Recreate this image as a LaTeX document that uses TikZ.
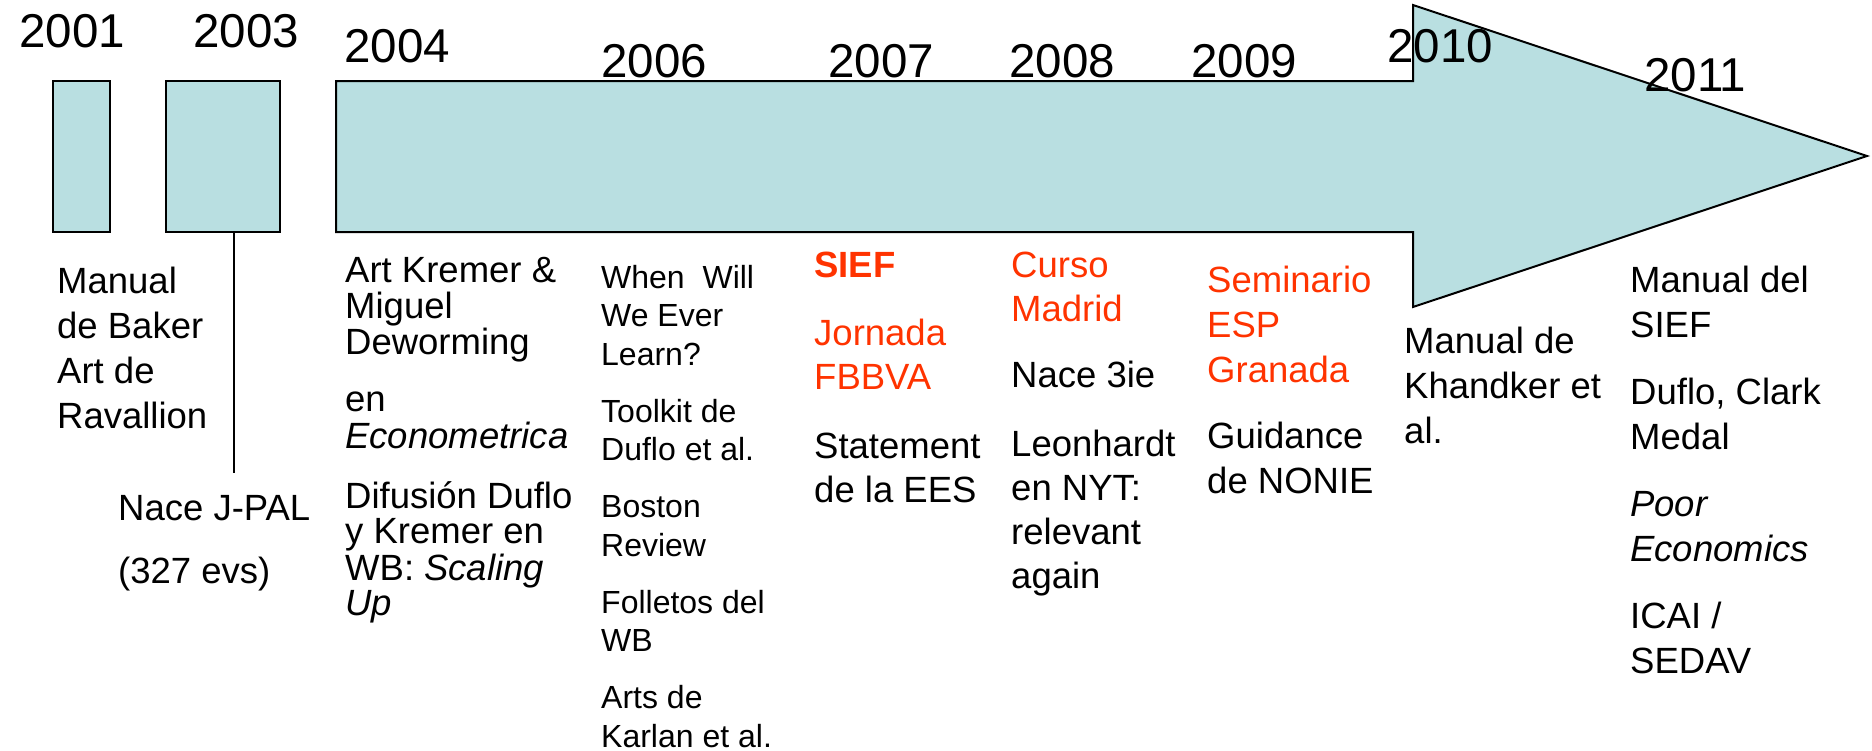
\documentclass[tikz,border=0pt]{standalone}
\usepackage{fontspec}
\setmainfont{Liberation Sans}
\definecolor{boxblue}{HTML}{B9DFE1}
\definecolor{hotred}{HTML}{FF3300}
\newcommand{\colstack}[1]{\begin{tabular}[t]{@{}l@{}}#1\end{tabular}}
\tikzset{
  shapebox/.style={draw=black, line width=2pt, fill=boxblue},
  year/.style={anchor=base west, inner sep=0pt, font=\fontsize{47.5}{47.5}\selectfont},
  txt/.style={anchor=base west, inner sep=0pt, font=\fontsize{36.5}{45}\selectfont},
  txttight/.style={anchor=base west, inner sep=0pt, font=\fontsize{36.5}{33}\selectfont},
  txtsmall/.style={anchor=base west, inner sep=0pt, font=\fontsize{32}{38.5}\selectfont},
  txtmid/.style={anchor=base west, inner sep=0pt, font=\fontsize{36.5}{44}\selectfont}
}
\begin{document}
\begin{tikzpicture}[x=1pt, y=-1pt]
\useasboundingbox (0,0) rectangle (1872,750);
% shapes
\node[shapebox, minimum width=57pt, minimum height=151pt, inner sep=0pt] (b1) at (81,156.5) {};
\node[shapebox, minimum width=114pt, minimum height=151pt, inner sep=0pt] (b2) at (223,156.5) {};
\draw[shapebox, line join=miter] (336,81) -- (1413,81) -- (1413,5) -- (1867,156) -- (1413,307) -- (1413,232) -- (336,232) -- cycle;
\coordinate (lineend) at (234,473);
\draw[line width=1.5pt] (lineend |- b2.south) -- (lineend);
% years
\node[year] (y2001) at (19,47) {2001};
\node[year] (y2003) at (193,47) {2003};
\node[year] (y2004) at (344,62) {2004};
\node[year] (y2006) at (601,77) {2006};
\node[year] (y2007) at (828,77) {2007};
\node[year] (y2008) at (1009,77) {2008};
\node[year] (y2009) at (1191,77) {2009};
\node[year] (y2010) at (1387,62) {2010};
\node[year] (y2011) at (1644,91) {2011};
% texts
\node[txt] (t2001) at (57,293) {\colstack{Manual\\de Baker\\Art de\\Ravallion}};
\node[txt] (t2003) at (118,520) {\colstack{Nace J-PAL\\[18pt](327 evs)}};
\node[txttight] (t2004) at (345,282) {\colstack{Art Kremer \&\\Miguel\\Deworming\\[24pt]en\\\textit{Econometrica}\\[24pt]Difusión Duflo\\y Kremer en\\WB: \textit{Scaling}\\\textit{Up}}};
\node[txtsmall] (t2006) at (601,288) {\colstack{When\ \ Will\\We Ever\\Learn?\\[18.5pt]Toolkit de\\Duflo et al.\\[18.5pt]Boston\\Review\\[18.5pt]Folletos del\\WB\\[18.5pt]Arts de\\Karlan et al.}};
\node[txtmid] (t2007) at (814,277) {\colstack{\textcolor{hotred}{\textbf{SIEF}}\\[24pt]\textcolor{hotred}{Jornada}\\\textcolor{hotred}{FBBVA}\\[25pt]Statement\\de la EES}};
\node[txtmid] (t2008) at (1011,277) {\colstack{\textcolor{hotred}{Curso}\\\textcolor{hotred}{Madrid}\\[22pt]Nace 3ie\\[25pt]Leonhardt\\en NYT:\\relevant\\again}};
\node[txt] (t2009) at (1207,292) {\colstack{\textcolor{hotred}{Seminario}\\\textcolor{hotred}{ESP}\\\textcolor{hotred}{Granada}\\[21pt]Guidance\\de NONIE}};
\node[txt] (t2010) at (1404,353) {\colstack{Manual de\\Khandker et\\al.}};
\node[txt] (t2011) at (1630,292) {\colstack{Manual del\\SIEF\\[22pt]Duflo, Clark\\Medal\\[22pt]\textit{Poor}\\\textit{Economics}\\[22pt]ICAI /\\SEDAV}};
\end{tikzpicture}
\end{document}
